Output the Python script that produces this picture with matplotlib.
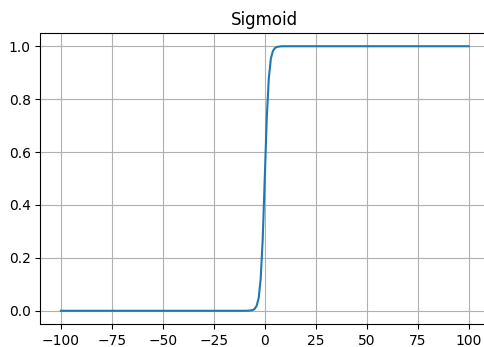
import matplotlib
matplotlib.use("Agg")
import matplotlib.pyplot as plt

# values
x_vals = [-100, -50, -10, -8, -6, -5, -4, -3, -2, -1, 0, 1, 2, 3, 4, 5, 6, 8, 10, 50, 100]
y_vals = [0.0, 0.0, 0.0, 0.0003, 0.0025, 0.007, 0.018, 0.047, 0.12, 0.27, 0.5,
          0.73, 0.88, 0.953, 0.982, 0.993, 0.9975, 0.9997, 1.0, 1.0, 1.0]

fig = plt.figure(figsize=(4.85, 3.47), dpi=100)
# axes run a little past the right edge, as in the cropped reference
ax = fig.add_axes([40.5 / 485, (347 - 324) / 347, 448.5 / 485, 291 / 347])
ax.plot(x_vals, y_vals)
ax.set_title("Sigmoid")
ax.grid(True)
ax.spines["right"].set_visible(False)
fig.savefig("out.png", dpi=100)
